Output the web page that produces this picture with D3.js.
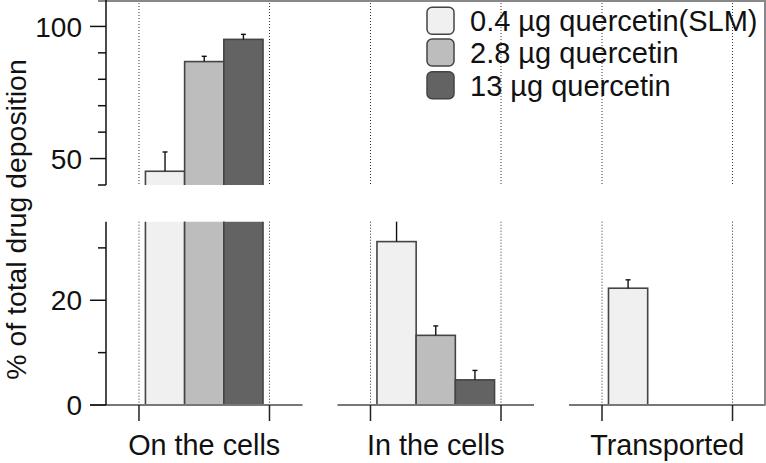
<!DOCTYPE html>
<html>
<head>
<meta charset="utf-8">
<script src="https://cdn.jsdelivr.net/npm/d3@7"></script>
<style>
  html, body { margin: 0; padding: 0; background: #fff; }
  text { font-family: "Liberation Sans", Arial, Helvetica, sans-serif; fill: #111; }
</style>
</head>
<body>
<svg id="chart" width="766" height="463"></svg>
<script>
// ---- data ----
const categories = ["On the cells", "In the cells", "Transported"];
const seriesNames = ["0.4 µg quercetin(SLM)", "2.8 µg quercetin", "13 µg quercetin"];
const seriesSLM   = [45.2, 31.2, 22.3];
const series28    = [86.7, 13.3, 0];
const series13    = [95.1, 4.8, 0];
const errSLM      = [7.3, 4.0, 1.6];
const err28       = [2.0, 1.8, 0];
const err13       = [1.9, 1.8, 0];
const topTicks    = [40, 50, 60, 70, 80, 90, 100];
const topLabels   = [50, 100];
const bottomTicks = [0, 10, 20, 30];
const bottomLabels = [0, 20];
const colors = ["#f0f0f0", "#bdbdbd", "#636363"];

const values = [seriesSLM, series28, series13];
const errors = [errSLM, err28, err13];

const svg = d3.select("#chart");

// ---- scales ----
const x0 = d3.scaleBand().domain(categories).range([88.5, 783]).paddingInner(0.4363).paddingOuter(0.218);
const x1 = d3.scaleBand().domain(d3.range(seriesNames.length)).range([0, x0.bandwidth()]).paddingInner(0).paddingOuter(0.165);
const yTop = d3.scaleLinear().domain([40, 110]).range([185, 0]);
const yBot = d3.scaleLinear().domain([0, 35]).range([405, 221.7]);
const axisX = 106;

// clip paths
const defs = svg.append("defs");
defs.append("clipPath").attr("id", "clipTop").append("rect")
  .attr("x", axisX).attr("y", yTop(110)).attr("width", 766 - axisX).attr("height", yTop(40) - yTop(110));
defs.append("clipPath").attr("id", "clipBot").append("rect")
  .attr("x", axisX).attr("y", yBot(35)).attr("width", 766 - axisX).attr("height", yBot(0) - yBot(35));

// ---- gridlines (dotted) ----
const gridX = [];
categories.forEach(c => { gridX.push(x0(c)); gridX.push(x0(c) + x0.bandwidth()); });
const grid = svg.append("g");
[[yTop(110), yTop(40)], [yBot(35), yBot(0)]].forEach(([a, b]) => {
  grid.selectAll(null).data(gridX).enter().append("line")
    .attr("x1", d => d).attr("x2", d => d).attr("y1", a).attr("y2", b)
    .attr("stroke", "#333").attr("stroke-width", 1).attr("stroke-dasharray", "1,2");
});

// ---- bars ----
const flat = [];
categories.forEach((c, i) => {
  values.forEach((s, j) => {
    if (s[i] > 0) flat.push({ c, j, v: s[i], e: errors[j][i] });
  });
});

function drawPanel(y, clipId, lo, hi) {
  const g = svg.append("g").attr("clip-path", `url(#${clipId})`);
  g.selectAll("rect").data(flat).enter().append("rect")
    .attr("x", d => x0(d.c) + x1(d.j))
    .attr("width", x1.bandwidth())
    .attr("y", d => y(d.v))
    .attr("height", d => y(lo - 50) - y(d.v))
    .attr("fill", d => colors[d.j])
    .attr("stroke", "#444").attr("stroke-width", 1.6);
  const eb = g.selectAll("g.err").data(flat.filter(d => d.e > 0)).enter().append("g");
  eb.append("line")
    .attr("x1", d => x0(d.c) + x1(d.j) + x1.bandwidth() / 2)
    .attr("x2", d => x0(d.c) + x1(d.j) + x1.bandwidth() / 2)
    .attr("y1", d => y(d.v)).attr("y2", d => y(d.v + d.e))
    .attr("stroke", "#111").attr("stroke-width", 1.4);
  eb.append("line")
    .attr("x1", d => x0(d.c) + x1(d.j) + x1.bandwidth() / 2 - 2.5)
    .attr("x2", d => x0(d.c) + x1(d.j) + x1.bandwidth() / 2 + 2.5)
    .attr("y1", d => y(d.v + d.e)).attr("y2", d => y(d.v + d.e))
    .attr("stroke", "#111").attr("stroke-width", 1.4);
}
drawPanel(yTop, "clipTop", 40, 110);
drawPanel(yBot, "clipBot", 0, 35);

// ---- x axis segments ----
const axisG = svg.append("g");
categories.forEach((c, i) => {
  const a = i === 0 ? axisX - 16 : x0(c) - 33;
  const b = x0(c) + x0.bandwidth() + 33;
  axisG.append("line").attr("x1", a).attr("x2", Math.min(b, 766)).attr("y1", yBot(0)).attr("y2", yBot(0))
    .attr("stroke", "#777").attr("stroke-width", 2);
});
axisG.selectAll("line.tk").data(gridX).enter().append("line")
  .attr("x1", d => d).attr("x2", d => d).attr("y1", yBot(0)).attr("y2", yBot(0) + 16)
  .attr("stroke", "#222").attr("stroke-width", 1.5);
axisG.selectAll("text.cat").data(categories).enter().append("text")
  .attr("x", d => x0(d) + x0.bandwidth() / 2).attr("y", 455)
  .attr("text-anchor", "middle").attr("font-size", 28.8).text(d => d);

// ---- frame (top and right) ----
svg.append("line").attr("x1", 98).attr("x2", 766).attr("y1", 1).attr("y2", 1)
  .attr("stroke", "#888").attr("stroke-width", 2);
svg.append("line").attr("x1", 765).attr("x2", 765).attr("y1", 0).attr("y2", yBot(0))
  .attr("stroke", "#888").attr("stroke-width", 2);

// ---- y axes ----
function yAxis(y, ticks, labels, y0, y1) {
  const g = svg.append("g");
  g.append("line").attr("x1", axisX).attr("x2", axisX).attr("y1", y0).attr("y2", y1)
    .attr("stroke", "#111").attr("stroke-width", 1.5);
  g.selectAll("line.t").data(ticks).enter().append("line")
    .attr("x1", d => labels.includes(d) ? axisX - 16 : axisX - 8).attr("x2", axisX)
    .attr("y1", d => y(d)).attr("y2", d => y(d))
    .attr("stroke", "#111").attr("stroke-width", 1.5);
  g.selectAll("text").data(labels).enter().append("text")
    .attr("x", axisX - 24).attr("y", d => y(d)).attr("dy", "0.36em")
    .attr("text-anchor", "end").attr("font-size", 28).text(d => d);
}
yAxis(yTop, topTicks, topLabels, 0, yTop(40));
yAxis(yBot, bottomTicks, bottomLabels, yBot(35), yBot(0));

// ---- y title ----
svg.append("text").attr("transform", "translate(26,219.5) rotate(-90)")
  .attr("text-anchor", "middle").attr("font-size", 28.4).text("% of total drug deposition");

// ---- legend ----
const leg = svg.append("g");
const legY = [20.8, 52.5, 85.2];
seriesNames.forEach((n, i) => {
  leg.append("rect").attr("x", 427).attr("y", legY[i] - 13.5).attr("width", 27).attr("height", 27)
    .attr("rx", 5).attr("fill", colors[i]).attr("stroke", "#444").attr("stroke-width", 1.5);
  leg.append("text").attr("x", 470).attr("y", legY[i]).attr("dy", "0.36em")
    .attr("font-size", 29).text(n);
});
</script>
</body>
</html>
